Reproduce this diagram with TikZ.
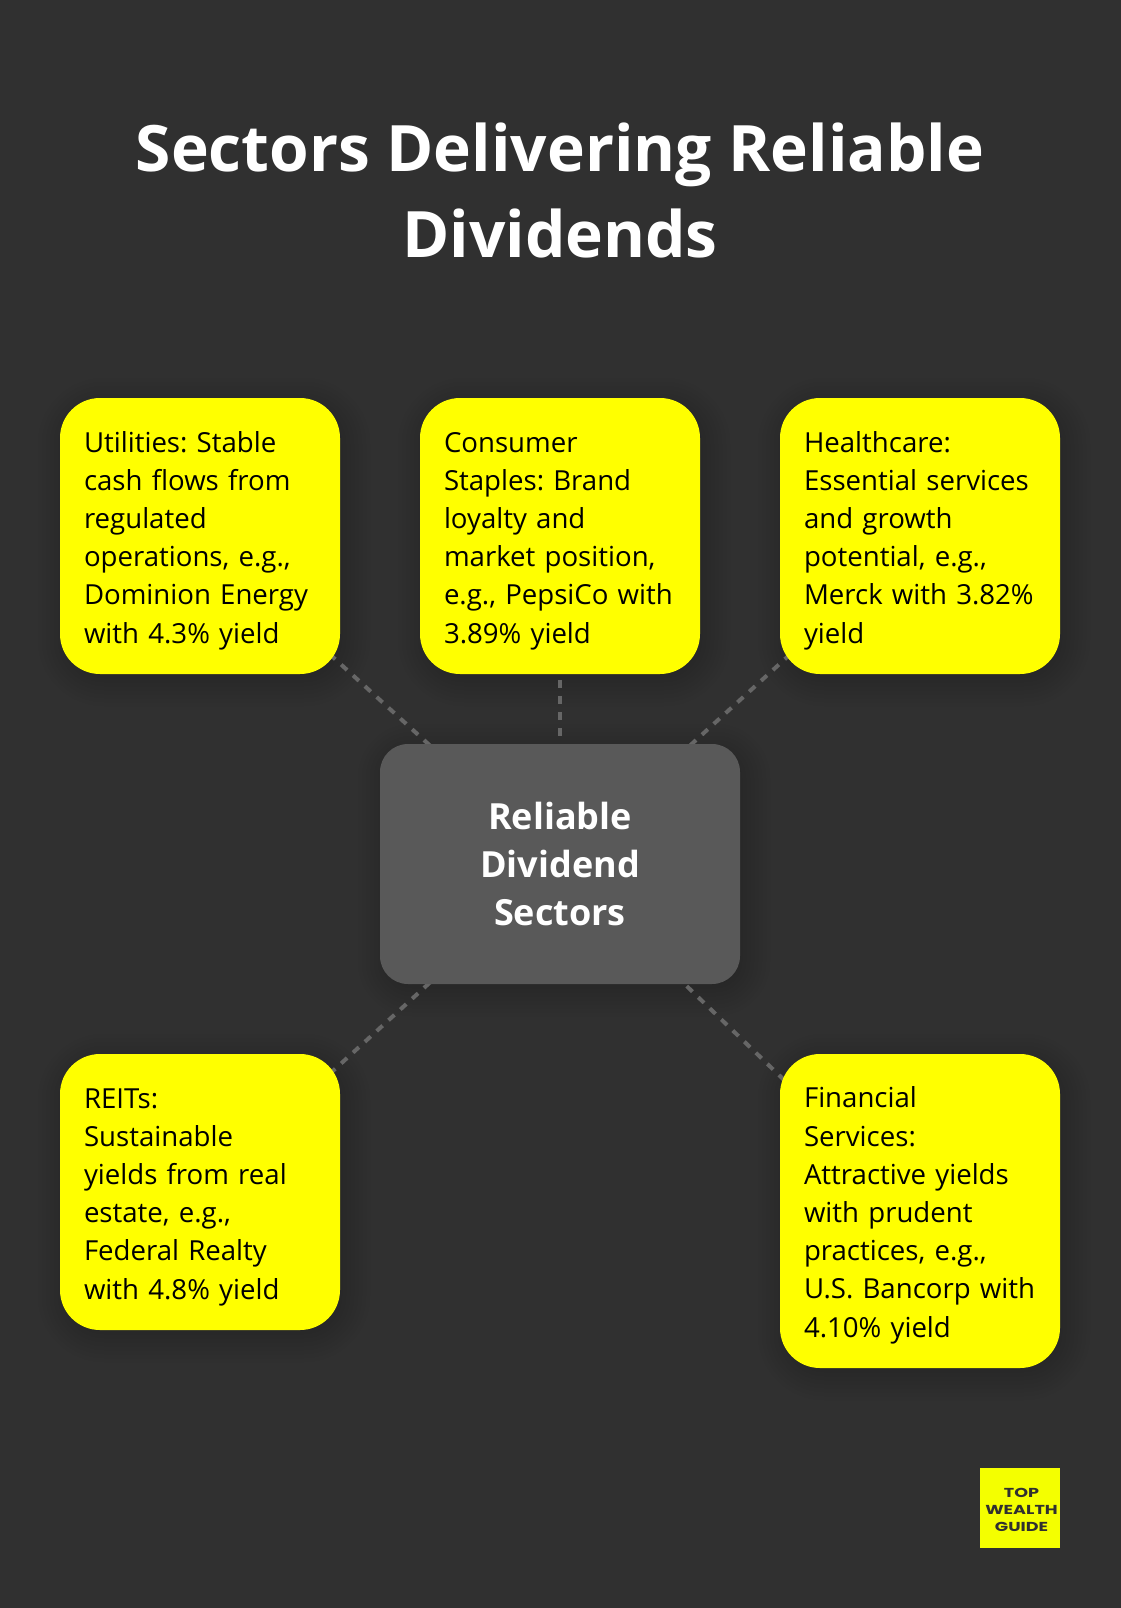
\documentclass[tikz,border=0pt]{standalone}
\usepackage{fontspec}
\setmainfont{Open Sans}
\newfontfamily\logofont{Poppins}
\frenchspacing
\pgfdeclarelayer{bglayer}
\pgfdeclarelayer{shlayer}
\pgfsetlayers{bglayer,shlayer,main}
\definecolor{pagebg}{HTML}{303030}
\definecolor{cardyellow}{HTML}{FFFF00}
\definecolor{hubgrey}{HTML}{595959}
\definecolor{linkgrey}{HTML}{666666}
\definecolor{logoyellow}{HTML}{F4FF00}
\newcommand{\firstl}{\rule{0pt}{30pt}}
\newcommand{\lastl}{\rule[-7pt]{0pt}{7pt}}
\tikzset{x=1pt,y=-1pt,
  card/.style={fill=cardyellow,rounded corners=40pt,text width=232pt,inner xsep=24pt,inner ysep=0pt,align=left,text=black,font=\fontsize{27.6}{38.2}\selectfont},
  hub/.style={fill=hubgrey,rounded corners=28pt,text width=312pt,inner xsep=24pt,inner ysep=0pt,minimum height=240pt,align=center,text=white,font=\fontsize{36}{48}\selectfont\bfseries},
  headline/.style={text=white,align=center,inner sep=0pt,font=\fontsize{64}{86}\selectfont\bfseries},
  link/.style={draw=linkgrey,line width=4pt,dash pattern=on 8pt off 8pt},
  logobox/.style={fill=logoyellow,minimum width=80pt,minimum height=80pt,inner sep=0pt,align=center,text=pagebg,font=\logofont\fontsize{13}{17}\selectfont\bfseries}
}
\newcommand{\logoline}[1]{\hspace*{3pt}\scalebox{1.35}[1]{#1}}
\newcommand{\softshadow}[5]{% x0,y0,x1,y1,radius
  \foreach \g in {-10,-6,...,26}{
    \pgfmathsetmacro{\rr}{max(#5+\g,4)}
    \fill[black,opacity=0.014,rounded corners=\rr pt] (#1+4-\g,#2+6-\g) rectangle (#3+4+\g,#4+6+\g);
  }}
\begin{document}
\begin{tikzpicture}
\useasboundingbox (0,0) rectangle (1120,1608);
\begin{pgfonlayer}{bglayer}
\fill[pagebg] (-5,-5) rectangle (1125,1613);
\end{pgfonlayer}
\node[headline] (title) at (560,190) {Sectors Delivering Reliable\\Dividends};
\node[card,minimum height=276pt] (u) at (200,536) {\firstl Utilities: Stable\\cash flows from\\regulated\\operations, e.g.,\\Dominion Energy\\with 4.3\% yield\lastl};
\node[card,minimum height=276pt] (s) at (560,536) {\firstl Consumer\\Staples: Brand\\loyalty and\\market position,\\e.g., PepsiCo with\\3.89\% yield\lastl};
\node[card,minimum height=276pt] (h) at (920,536) {\firstl Healthcare:\\Essential services\\and growth\\potential, e.g.,\\Merck with 3.82\%\\yield\lastl};
\node[hub] (c) at (560,864) {Reliable\\Dividend\\Sectors};
\node[card,minimum height=276pt] (r) at (200,1192) {\firstl REITs:\\Sustainable\\yields from real\\estate, e.g.,\\Federal Realty\\with 4.8\% yield\lastl};
\node[card,minimum height=314pt] (f) at (920,1211) {\firstl Financial\\Services:\\Attractive yields\\with prudent\\practices, e.g.,\\U.S. Bancorp with\\4.10\% yield\lastl};
\node[logobox] (logo) at (1020,1508) {\rule{0pt}{13pt}\logoline{TOP}\\\logoline{WEALTH}\\\logoline{GUIDE}};
\begin{pgfonlayer}{shlayer}
\softshadow{60}{398}{340}{674}{40}
\softshadow{420}{398}{700}{674}{40}
\softshadow{780}{398}{1060}{674}{40}
\softshadow{380}{744}{740}{984}{28}
\softshadow{60}{1054}{340}{1330}{40}
\softshadow{780}{1054}{1060}{1368}{40}
\draw[link] (c.center) -- (u.center);
\draw[link] (c.center) -- (s.center);
\draw[link] (c.center) -- (h.center);
\draw[link] (c.center) -- (r.center);
\draw[link] (c.center) -- (f.center);
\end{pgfonlayer}
\end{tikzpicture}
\end{document}
